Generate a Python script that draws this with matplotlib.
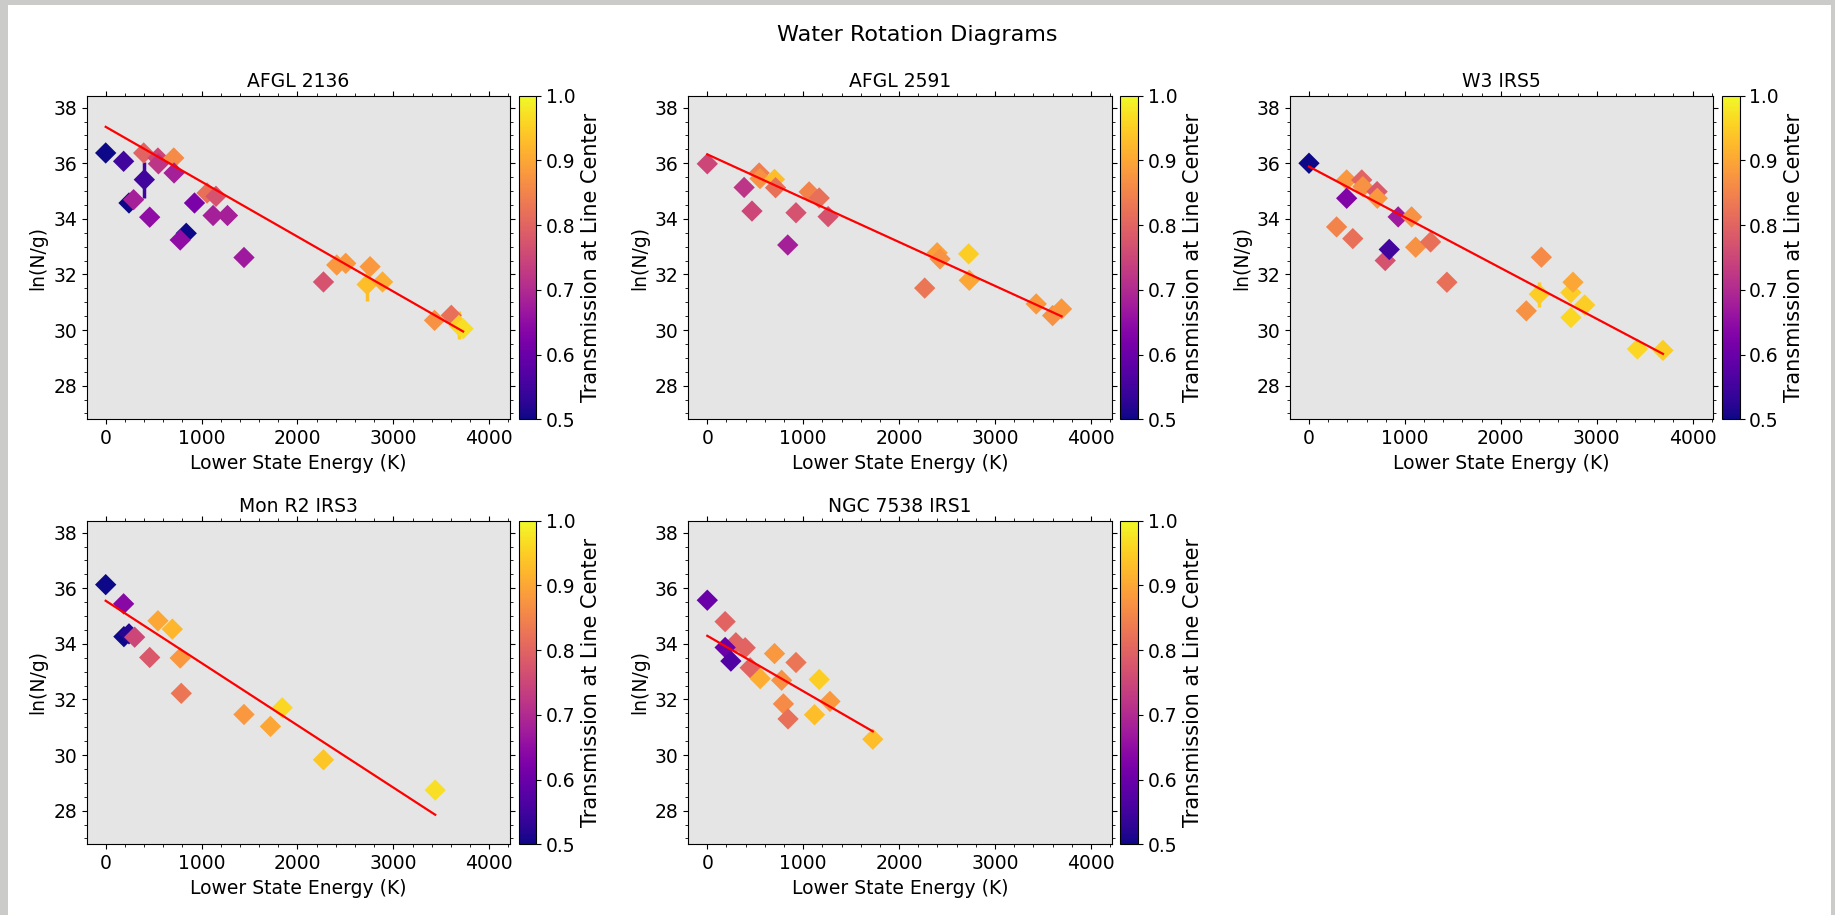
import numpy as np
import matplotlib.pyplot as plt
from matplotlib.patches import Rectangle
from matplotlib.ticker import MultipleLocator
plt.switch_backend('agg')

# ---- data ----
names = ["AFGL 2136", "AFGL 2591", "W3 IRS5", "Mon R2 IRS3", "NGC 7538 IRS1"]

E_2136 = [0, 187, 396, 403, 545, 550, 710, 713, 243, 291, 459, 926, 1057, 1150, 1120, 1270,
          840, 777, 1442, 2271, 2409, 2503, 2757, 2726, 2887, 3429, 3604, 3683, 3727]
N_2136 = [36.37, 36.07, 36.37, 35.41, 36.19, 35.98, 36.19, 35.65, 34.57, 34.69, 34.06, 34.57,
          34.93, 34.81, 34.12, 34.12, 33.48, 33.24, 32.61, 31.73, 32.34, 32.40, 32.28, 31.64,
          31.73, 30.35, 30.53, 30.17, 30.05]
T_2136 = [0.50, 0.55, 0.80, 0.55, 0.75, 0.72, 0.86, 0.68, 0.50, 0.68, 0.65, 0.62, 0.82, 0.77,
          0.68, 0.68, 0.50, 0.65, 0.67, 0.77, 0.88, 0.88, 0.88, 0.93, 0.91, 0.87, 0.82, 0.95, 0.97]
err_2136 = [0.05, 0.05, 0.05, 0.65, 0.05, 0.05, 0.05, 0.05, 0.05, 0.05, 0.05, 0.05, 0.05, 0.05,
            0.05, 0.05, 0.05, 0.05, 0.05, 0.05, 0.3, 0.05, 0.05, 0.6, 0.05, 0.05, 0.05, 0.5, 0.1]

E_2591 = [0, 384, 466, 541, 550, 701, 712, 839, 925, 1062, 1167, 1260, 2267, 2397, 2427, 2725,
          2732, 3430, 3601, 3694]
N_2591 = [35.98, 35.13, 34.28, 35.65, 35.45, 35.42, 35.12, 33.06, 34.22, 34.97, 34.75, 34.08,
          31.51, 32.78, 32.56, 32.74, 31.79, 30.94, 30.52, 30.76]
T_2591 = [0.75, 0.72, 0.75, 0.84, 0.87, 0.93, 0.82, 0.68, 0.77, 0.85, 0.82, 0.77, 0.83, 0.89,
          0.87, 0.95, 0.90, 0.88, 0.87, 0.88]
err_2591 = [0.05] * len(E_2591)

E_w3 = [0, 288, 393, 393, 457, 550, 562, 710, 712, 795, 837, 930, 1070, 1112, 1268, 1438,
        2266, 2423, 2402, 2731, 2753, 2875, 2731, 3425, 3691]
N_w3 = [36.00, 33.71, 35.40, 34.74, 33.29, 35.40, 35.16, 34.98, 34.74, 32.50, 32.90, 34.07,
        34.07, 32.98, 33.17, 31.72, 30.69, 32.62, 31.29, 31.35, 31.72, 30.90, 30.45, 29.32, 29.27]
T_w3 = [0.50, 0.85, 0.88, 0.63, 0.82, 0.80, 0.87, 0.78, 0.88, 0.77, 0.55, 0.67, 0.87, 0.87,
        0.82, 0.82, 0.87, 0.86, 0.95, 0.95, 0.90, 0.95, 0.96, 0.96, 0.95]
err_w3 = [0.05] * 18 + [0.45] + [0.05] * 6

E_monr2 = [0, 187, 190, 243, 302, 459, 545, 695, 777, 788, 1442, 1718, 1841, 2271, 3436]
N_monr2 = [36.13, 35.44, 34.26, 34.36, 34.24, 33.51, 34.83, 34.53, 33.49, 32.22, 31.46, 31.03,
           31.70, 29.83, 28.74]
T_monr2 = [0.50, 0.64, 0.50, 0.52, 0.75, 0.78, 0.90, 0.92, 0.88, 0.83, 0.88, 0.90, 0.96, 0.94, 0.97]
err_monr2 = [0.05] * 14 + [0.25]

E_7538 = [0, 186, 298, 395, 186, 246, 447, 552, 701, 775, 925, 794, 842, 1118, 1167, 1279, 1726]
N_7538 = [35.57, 34.80, 34.04, 33.86, 33.87, 33.38, 33.14, 32.75, 33.65, 32.69, 33.33, 31.84,
          31.30, 31.45, 32.72, 31.93, 30.57]
T_7538 = [0.60, 0.80, 0.80, 0.80, 0.60, 0.57, 0.80, 0.91, 0.88, 0.87, 0.83, 0.86, 0.82, 0.93,
          0.95, 0.88, 0.93]
err_7538 = [0.05] * len(E_7538)

energies = [E_2136, E_2591, E_w3, E_monr2, E_7538]
lnNg = [N_2136, N_2591, N_w3, N_monr2, N_7538]
trans = [T_2136, T_2591, T_w3, T_monr2, T_7538]
errs = [err_2136, err_2591, err_w3, err_monr2, err_7538]

# linear fits: intercept, slope (per K)
fit_b = [37.31, 36.32, 35.88, 35.55, 34.29]
fit_m = [-0.001975, -0.001577, -0.001825, -0.00224, -0.001992]

# ---- figure ----
W, H = 1835, 915
fs = 13.5
fig = plt.figure(figsize=(W / 100, H / 100), dpi=100)
fig.patch.set_facecolor('#cbcbc9')
fig.add_artist(Rectangle((8 / W, 0), (1831 - 8) / W, (H - 5) / H,
                         transform=fig.transFigure, facecolor='white',
                         edgecolor='none', zorder=-10))
fig.text(0.5, 1 - 35 / H, "Water Rotation Diagrams", ha='center', va='center', fontsize=16)

cmap = plt.get_cmap('plasma')
norm = plt.Normalize(0.5, 1.0)

lefts = [86.7, 688.3, 1290.0]
tops = [95.7, 520.7]
aw, ah = 423.3, 323.6

for i in range(len(names)):
    r, c = divmod(i, 3)
    x0 = lefts[c]
    y0 = tops[r] + ah
    ax = fig.add_axes([x0 / W, 1 - y0 / H, aw / W, ah / H])
    cax = fig.add_axes([(x0 + aw + 8.7) / W, 1 - y0 / H, 17.5 / W, ah / H])

    E = np.array(energies[i], dtype=float)
    N = np.array(lnNg[i])
    T = np.array(trans[i])
    err = np.array(errs[i])
    cols = cmap(norm(T))

    ax.set_facecolor('#e5e5e5')
    for j in range(len(E)):
        ax.errorbar(E[j], N[j], yerr=err[j], fmt='none', ecolor=cols[j], elinewidth=2.5, zorder=2)
    sc = ax.scatter(E, N, c=T, cmap=cmap, norm=norm, marker='D', s=118,
                    edgecolors='none', zorder=3)
    xfit = np.array([E.min(), E.max()])
    ax.plot(xfit, fit_b[i] + fit_m[i] * xfit, c='r', lw=1.6, zorder=4)

    ax.set_xlim(-198, 4216)
    ax.set_ylim(26.79, 38.43)
    ax.xaxis.set_major_locator(MultipleLocator(1000))
    ax.xaxis.set_minor_locator(MultipleLocator(200))
    ax.yaxis.set_major_locator(MultipleLocator(2))
    ax.yaxis.set_minor_locator(MultipleLocator(0.5))
    ax.tick_params(which='both', direction='out', top=True, right=True, labelsize=fs)
    ax.set_title(names[i], fontsize=fs)
    ax.set_xlabel("Lower State Energy (K)", fontsize=fs)
    ax.set_ylabel("ln(N/g)", fontsize=fs)

    cb = fig.colorbar(sc, cax=cax)
    cb.set_ticks([0.5, 0.6, 0.7, 0.8, 0.9, 1.0])
    cb.ax.tick_params(labelsize=fs)
    cb.set_label("Transmission at Line Center", fontsize=15)

plt.savefig("out.png", dpi=100, facecolor=fig.get_facecolor())
